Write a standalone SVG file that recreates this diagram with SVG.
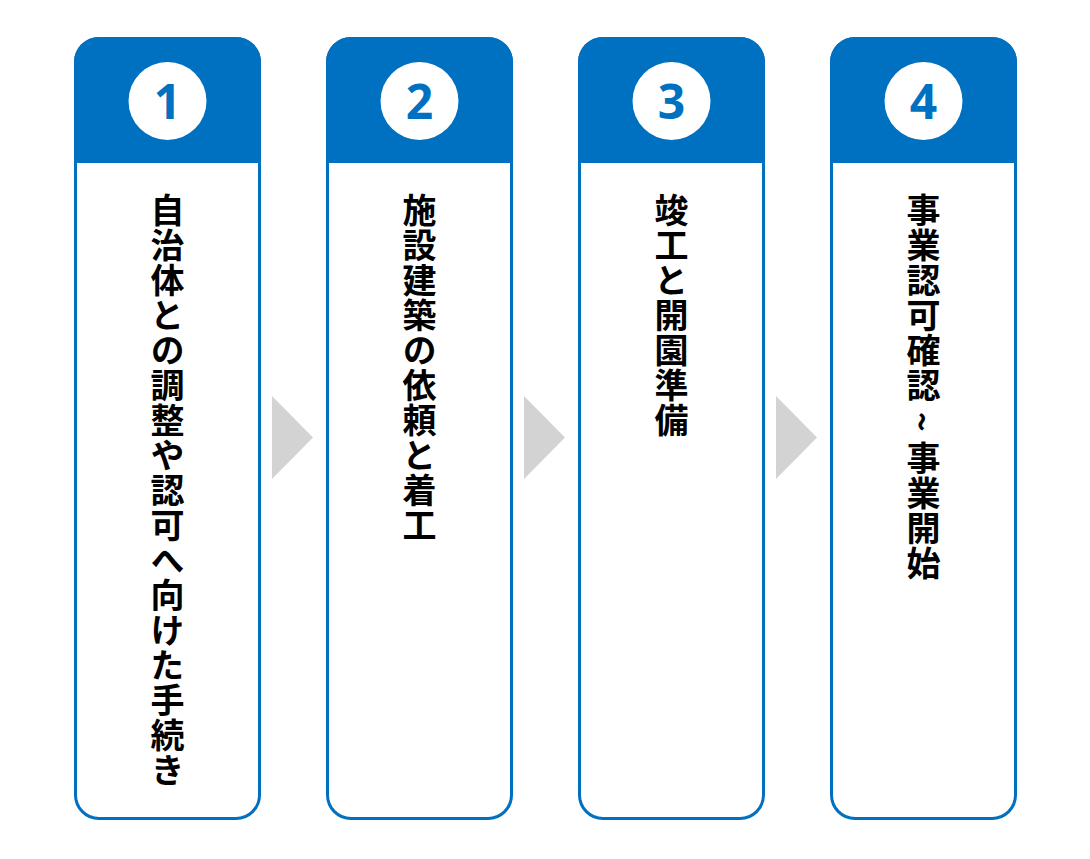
<svg xmlns="http://www.w3.org/2000/svg" width="1090" height="859" viewBox="0 0 1090 859">
<defs>
<style>
.frame{fill:#ffffff;stroke:#0070c0;stroke-width:3}
.head{fill:#0070c0}
.circ{fill:#ffffff}
.num{font-family:"Open Sans","Liberation Sans",sans-serif;font-weight:700;font-size:48px;fill:#0070c0;text-anchor:middle}
.lbl{font-family:"Noto Sans CJK JP","Noto Sans CJK SC",sans-serif;font-weight:700;font-size:34px;fill:#000000;writing-mode:vertical-rl;letter-spacing:1px}
.arr{fill:#d3d3d3}
</style>
<g id="card">
<rect class="frame" x="75.5" y="38.5" width="184" height="780" rx="23.5" ry="23.5"/>
<path class="head" d="M74,163 V62 A25,25 0 0 1 99,37 H236 A25,25 0 0 1 261,62 V163 Z"/>
<circle class="circ" cx="167.5" cy="101" r="39"/>
</g>
</defs>
<rect width="1090" height="859" fill="#ffffff"/>
<g id="connectors">
<polygon class="arr" points="272,396 313,437.5 272,479"/>
<polygon class="arr" points="524,396 565,437.5 524,479"/>
<polygon class="arr" points="776,396 817,437.5 776,479"/>
</g>
<g id="step1">
<use href="#card"/>
<text class="num" x="167.5" y="119">1</text>
<text class="lbl" x="167.5" y="193">自治体との調整や認可へ向けた手続き</text>
</g>
<g id="step2">
<use href="#card" transform="translate(252,0)"/>
<text class="num" x="419.5" y="119">2</text>
<text class="lbl" x="419.5" y="193">施設建築の依頼と着工</text>
</g>
<g id="step3">
<use href="#card" transform="translate(504,0)"/>
<text class="num" x="671.5" y="119">3</text>
<text class="lbl" x="671.5" y="193">竣工と開園準備</text>
</g>
<g id="step4">
<use href="#card" transform="translate(756,0)"/>
<text class="num" x="923.5" y="119">4</text>
<text class="lbl" x="923.5" y="193">事業認可確認 ~ 事業開始</text>
</g>
</svg>
